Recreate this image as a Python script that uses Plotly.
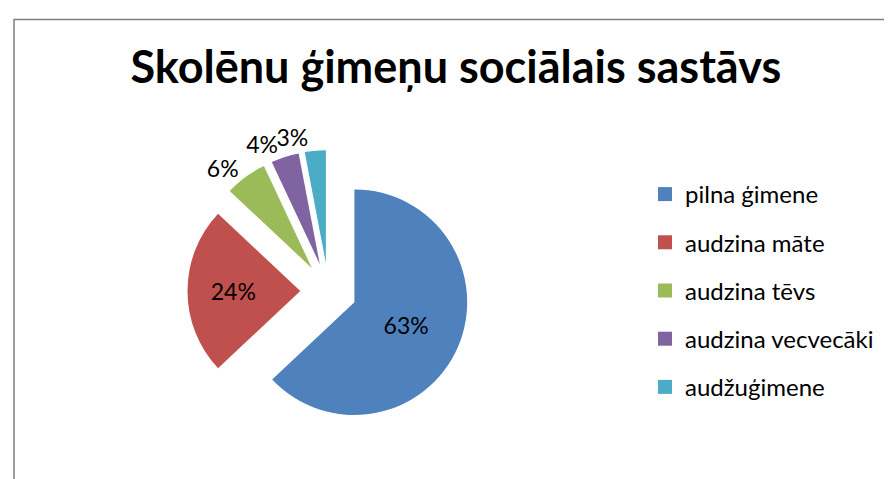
import plotly.graph_objects as go

labels = ["pilna ģimene", "audzina māte", "audzina tēvs", "audzina vecvecāki", "audžuģimene"]
values = [63, 24, 6, 4, 3]
colors = ["#4F81BD", "#C0504D", "#9BBB59", "#8064A2", "#4BACC6"]
text_pos = ["inside", "inside", "outside", "outside", "outside"]

W, H = 892, 479
pie_domain = dict(x=[179.5 / W, 461.5 / W], y=[1 - 424 / H, 1 - 142 / H])
pct_font = dict(family="Lato", size=23, color="black")


def base_pie(marker_colors, positions, hover):
    return go.Pie(
        labels=labels,
        values=values,
        sort=False,
        direction="clockwise",
        rotation=0,
        pull=0.25,
        marker=dict(colors=marker_colors, line=dict(width=0)),
        textinfo="percent",
        textposition=positions,
        insidetextorientation="horizontal",
        textfont=pct_font,
        domain=pie_domain,
        showlegend=False,
        hoverinfo=hover,
    )


fig = go.Figure()

# main pie: inside labels plus the first outside one
first_out = text_pos.index("outside")
main_pos = [p if (p == "inside" or i == first_out) else "none" for i, p in enumerate(text_pos)]
fig.add_trace(base_pie(colors, main_pos, "label+percent"))

# other outside labels each on their own transparent copy (no leader lines)
for i, p in enumerate(text_pos):
    if p == "outside" and i != first_out:
        pos = ["outside" if j == i else "none" for j in range(len(values))]
        fig.add_trace(base_pie(["rgba(0,0,0,0)"] * len(values), pos, "skip"))

# legend entries (one group each so the spacing can be set)
for lab, col in zip(labels, colors):
    fig.add_trace(go.Scatter(
        x=[None], y=[None], mode="markers", name=lab, legendgroup=lab,
        marker=dict(symbol="square", size=14, color=col),
    ))

fig.update_layout(
    width=W, height=H,
    margin=dict(l=0, r=0, t=0, b=0),
    paper_bgcolor="white",
    plot_bgcolor="white",
    font=dict(family="Lato", color="black"),
    title=dict(
        text="<b>Skolēnu ģimeņu sociālais sastāvs</b>",
        font=dict(family="Lato", size=45, color="black"),
        x=0.502, xanchor="center",
        y=1 - 59 / H, yanchor="middle",
    ),
    xaxis=dict(visible=False),
    yaxis=dict(visible=False),
    legend=dict(
        x=637 / W, xanchor="left",
        y=1 - 164 / H, yanchor="top",
        font=dict(family="Lato", size=24, color="black"),
        tracegroupgap=14,
        itemwidth=30,
        bgcolor="rgba(0,0,0,0)",
    ),
    shapes=[dict(
        type="rect", xref="paper", yref="paper",
        x0=6 / W, x1=1.05, y0=-0.1, y1=1 - 11.5 / H,
        line=dict(color="#7F7F7F", width=1.5),
        fillcolor="rgba(0,0,0,0)", layer="below",
    )],
)

fig.write_html("out.html")
